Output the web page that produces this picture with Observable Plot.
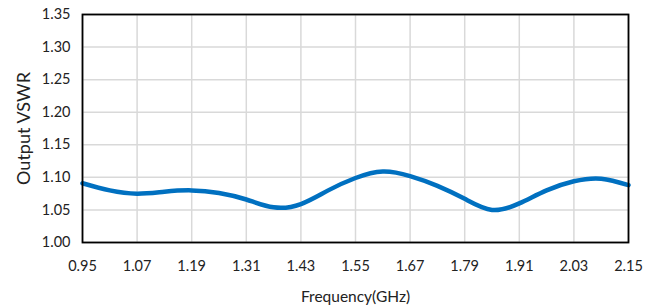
<!DOCTYPE html>
<html>
<head>
<meta charset="utf-8">
<script src="https://cdn.jsdelivr.net/npm/d3@7"></script>
<script src="https://cdn.jsdelivr.net/npm/@observablehq/plot@0.6"></script>
<style>
  body { margin: 0; background: #fff; }
  #chart svg { display: block; }
</style>
</head>
<body>
<div id="chart"></div>
<script>
const freq = [0.95, 1.01, 1.07, 1.13, 1.19, 1.25, 1.31, 1.37, 1.43, 1.49, 1.55, 1.61, 1.67, 1.73, 1.79, 1.85, 1.91, 1.97, 2.03, 2.09, 2.15];
const vswr = [1.091, 1.080, 1.075, 1.078, 1.080, 1.076, 1.066, 1.054, 1.059, 1.080, 1.099, 1.109, 1.102, 1.087, 1.067, 1.050, 1.060, 1.080, 1.094, 1.098, 1.088];
const xTicks = [0.95, 1.07, 1.19, 1.31, 1.43, 1.55, 1.67, 1.79, 1.91, 2.03, 2.15];
const yTicks = [1.00, 1.05, 1.10, 1.15, 1.20, 1.25, 1.30, 1.35];

const data = freq.map((f, i) => ({f, v: vswr[i]}));

const chart = Plot.plot({
  width: 660,
  height: 307,
  marginLeft: 82,
  marginRight: 32,
  marginTop: 14,
  marginBottom: 65,
  style: {fontFamily: "Lato, 'Open Sans', sans-serif", fontSize: "14.5px", color: "#222", background: "#fff"},
  x: {domain: [0.95, 2.15], ticks: xTicks, tickFormat: d3.format(".2f"), label: null},
  y: {domain: [1.00, 1.35], ticks: yTicks, tickFormat: d3.format(".2f"), label: null},
  marks: [
    Plot.gridX(xTicks, {stroke: "#d9d9d9", strokeOpacity: 1, strokeWidth: 1.5}),
    Plot.gridY(yTicks, {stroke: "#d9d9d9", strokeOpacity: 1, strokeWidth: 1.5}),
    Plot.axisX(xTicks, {tickSize: 0, tickPadding: 18, tickFormat: d3.format(".2f"), label: null}),
    Plot.axisY(yTicks, {tickSize: 0, tickPadding: 12, tickFormat: d3.format(".2f"), label: null}),
    Plot.line(data, {x: "f", y: "v", stroke: "#0070C0", strokeWidth: 4.5, curve: "natural"}),
    Plot.frame({stroke: "#000", strokeWidth: 1.8}),
    Plot.text(["Frequency(GHz)"], {frameAnchor: "bottom", dy: 59, fontSize: 15.5, fill: "#222"}),
    Plot.text(["Output VSWR"], {frameAnchor: "left", dx: -58, rotate: -90, textAnchor: "middle", fontSize: 18, fill: "#222"})
  ]
});
document.getElementById("chart").append(chart);
</script>
</body>
</html>
